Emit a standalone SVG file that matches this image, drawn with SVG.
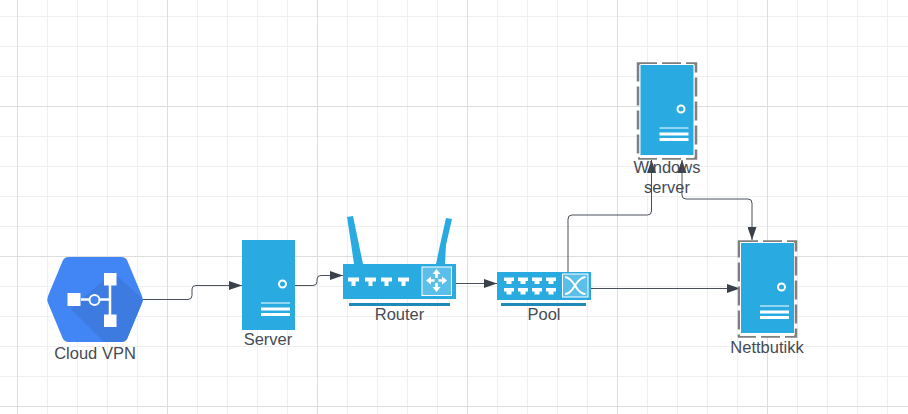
<svg xmlns="http://www.w3.org/2000/svg" width="908" height="414" viewBox="0 0 908 414">
<defs>
<style>
.g{stroke:#efefef;stroke-width:1;fill:none}
.m{stroke:#dedede;stroke-width:1;fill:none}
.b{fill:#29abe2}
.w{fill:#fff}
.t{font-family:"Liberation Sans",Arial,sans-serif;font-size:16.5px;fill:#454b54;text-anchor:middle}
.c{fill:none;stroke:#4a5059;stroke-width:1}
.d{fill:none;stroke:#808080;stroke-width:2.500;stroke-dasharray:19 5}
</style>
<marker id="a" markerUnits="userSpaceOnUse" markerWidth="13" markerHeight="9" refX="13" refY="4.500" orient="auto-start-reverse" viewBox="0 0 13 9"><path d="M0 0L13 4.500L0 9Z" fill="#3a414a"/></marker>
<g id="srv">
<rect class="b" width="53" height="90"/>
<circle cx="40.500" cy="44" r="3.500" fill="none" stroke="#fff" stroke-width="2"/>
<path d="M19 63H48" stroke="#fff" stroke-width="1"/>
<path d="M19 69H48M19 74.500H48" stroke="#fff" stroke-width="3"/>
</g>
<path id="p" d="M0 0H11V4H7.500V8.500H3.500V4H0Z" fill="#fff"/>
<path id="q" d="M0 0H10V3.500H7.500V6.500H2.500V3.500H0Z" fill="#fff"/>
</defs>
<rect width="908" height="414" fill="#fff"/>
<g id="grid">
<path class="g" d="M47.500 0V414M77.500 0V414M107.500 0V414M137.500 0V414M197.500 0V414M227.500 0V414M257.500 0V414M287.500 0V414M347.500 0V414M377.500 0V414M407.500 0V414M437.500 0V414M497.500 0V414M527.500 0V414M557.500 0V414M587.500 0V414M647.500 0V414M677.500 0V414M707.500 0V414M737.500 0V414M797.500 0V414M827.500 0V414M857.500 0V414M887.500 0V414"/>
<path class="g" d="M0 16.500H908M0 46.500H908M0 76.500H908M0 136.500H908M0 166.500H908M0 196.500H908M0 226.500H908M0 286.500H908M0 316.500H908M0 346.500H908M0 376.500H908"/>
<path class="m" d="M17.500 0V414M167.500 0V414M317.500 0V414M467.500 0V414M617.500 0V414M767.500 0V414M0 106.500H908M0 256.500H908M0 406.500H908"/>
</g>
<g id="connectors">
<path class="c" marker-end="url(#a)" d="M143 299.500H188Q192 299.500 192 295.500V289Q192 285.500 196 285.500H242"/>
<path class="c" marker-end="url(#a)" d="M295 285.500H313Q317 285.500 317 281.500V279Q317 275.500 321 275.500H343"/>
<path class="c" marker-end="url(#a)" d="M456 283.500H497"/>
<path class="c" marker-end="url(#a)" d="M568 272V219Q568 215 572 215H647.500Q651.500 215 651.500 211V160"/>
<path class="c" marker-start="url(#a)" marker-end="url(#a)" d="M682 160V195Q682 199 686 199H748Q752 199 752 203V240"/>
<path class="c" marker-end="url(#a)" d="M591 288.500H740"/>
</g>
<g id="cloud-vpn">
<path d="M68.500 257H121.500Q125 257 127 260L142 296Q143.500 299.500 142 303L127 339Q125 342 121.500 342H68.500Q65 342 63 339L48 303Q46.500 299.500 48 296L63 260Q65 257 68.500 257Z" fill="#4285f4"/>
<path d="M113 272L143 299.500L142 303L127 339Q125 342 121.500 342H104L71 309Z" fill="#3d7be0"/>
<path d="M110 275V320M81 299.500H110" stroke="#fff" stroke-width="2.500"/>
<rect class="w" x="104" y="273" width="12.500" height="12.500"/>
<rect class="w" x="104" y="314.500" width="12.500" height="12.500"/>
<rect class="w" x="67.500" y="293" width="13" height="13"/>
<circle cx="94.500" cy="300" r="5" fill="#4285f4" stroke="#fff" stroke-width="2"/>
<text class="t" x="95" y="359">Cloud VPN</text>
</g>
<g id="server">
<use href="#srv" x="242" y="240"/>
<text class="t" x="268" y="345">Server</text>
</g>
<g id="router">
<path class="b" d="M347 217L353 216L358 240L363 264H354L350.500 240Z"/>
<path class="b" d="M446 218L452 219L446 245L445 264H436L440 245Z"/>
<rect class="b" x="343" y="264" width="113" height="35"/>
<use href="#p" x="348" y="277.500"/><use href="#p" x="365" y="277.500"/><use href="#p" x="381" y="277.500"/><use href="#p" x="398" y="277.500"/>
<rect x="422" y="267" width="29.500" height="28.500" fill="#5cbfe9" stroke="#fff"/>
<path class="w" d="M436.500 269L440.500 274H437.800V278H435.200V274H432.500ZM436.500 292L440.500 287H437.800V283H435.200V287H432.500ZM426 280.500L431 276.500V279.200H434.500V281.800H431V284.500ZM447 280.500L442 276.500V279.200H438.500V281.800H442V284.500Z"/>
<rect x="349" y="303" width="101" height="3" fill="#1f8ab8"/>
<text class="t" x="399.500" y="320">Router</text>
</g>
<g id="pool">
<rect class="b" x="497" y="272" width="94" height="28"/>
<use href="#q" x="504" y="277.500"/><use href="#q" x="518" y="277.500"/><use href="#q" x="532" y="277.500"/><use href="#q" x="546" y="277.500"/>
<use href="#q" x="504" y="288"/><use href="#q" x="518" y="288"/><use href="#q" x="532" y="288"/><use href="#q" x="546" y="288"/>
<rect x="562.500" y="274" width="25.500" height="23" fill="#5cbfe9" stroke="#fff"/>
<path d="M565 294Q570 294 575 285.500Q580 277.500 585.500 277M565 277Q570 277.500 575 285.500Q580 294 585.500 294" fill="none" stroke="#fff" stroke-width="2"/>
<rect x="501" y="303" width="85" height="3" fill="#1f8ab8"/>
<text class="t" x="544" y="320">Pool</text>
</g>
<g id="windows-server">
<rect class="d" x="638" y="63.500" width="58" height="95"/>
<rect class="w" x="640" y="64" width="54" height="94"/>
<use href="#srv" x="640.500" y="65"/>
<text class="t" x="667" y="173">Windows</text>
<text class="t" x="667" y="193">server</text>
</g>
<g id="nettbutikk">
<rect class="d" x="739" y="241.500" width="57" height="95"/>
<rect class="w" x="740" y="242" width="54" height="94"/>
<use href="#srv" x="741" y="243"/>
<text class="t" x="767" y="353">Nettbutikk</text>
</g>
</svg>
